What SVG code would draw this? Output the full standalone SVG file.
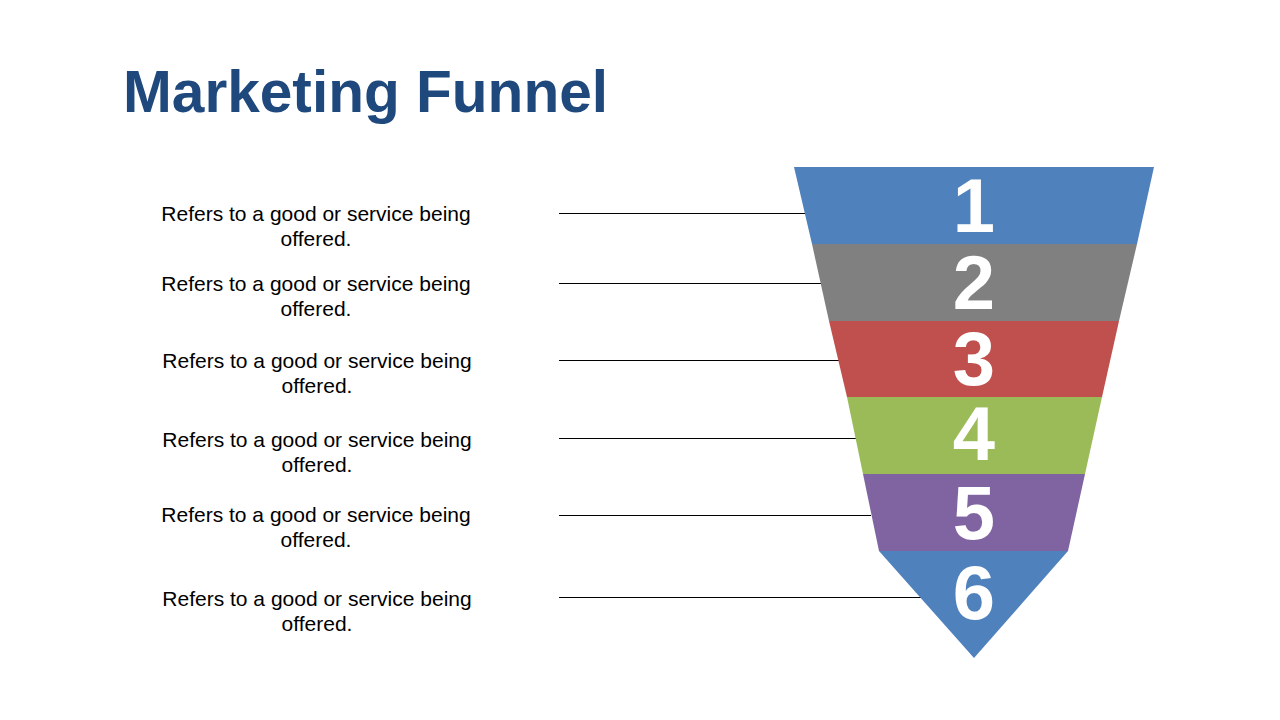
<svg xmlns="http://www.w3.org/2000/svg" width="1280" height="720" viewBox="0 0 1280 720">
<style>
.title{font-family:"Liberation Sans",Arial,sans-serif;font-weight:bold;font-size:58.6px;fill:#1F497D}
.lbl{font-family:"Liberation Sans",Arial,sans-serif;font-size:21px;fill:#000;text-anchor:middle}
.num{font-family:"Liberation Sans",Arial,sans-serif;font-weight:bold;font-size:76px;fill:#fff;text-anchor:middle}
.conn{stroke:#000;stroke-width:1;fill:none}
</style>
<rect width="1280" height="720" fill="#fff"/>
<text class="title" x="123" y="112">Marketing Funnel</text>
<g id="connectors">
<line class="conn" x1="559" y1="213.5" x2="806" y2="213.5"/>
<line class="conn" x1="559" y1="283.5" x2="822" y2="283.5"/>
<line class="conn" x1="559" y1="360.5" x2="839" y2="360.5"/>
<line class="conn" x1="559" y1="438.5" x2="857" y2="438.5"/>
<line class="conn" x1="559" y1="515.5" x2="871" y2="515.5"/>
<line class="conn" x1="559" y1="597.5" x2="921" y2="597.5"/>
</g>
<g id="stage1">
<polygon points="794,167 1154,167 1137,244 812,244" fill="#4F81BD"/>
<text class="num" x="974" y="232">1</text>
<text class="lbl" x="316" y="221">Refers to a good or service being</text>
<text class="lbl" x="316" y="246">offered.</text>
</g>
<g id="stage2">
<polygon points="812,244 1137,244 1119,321 829,321" fill="#808080"/>
<text class="num" x="974" y="309">2</text>
<text class="lbl" x="316" y="291">Refers to a good or service being</text>
<text class="lbl" x="316" y="316">offered.</text>
</g>
<g id="stage3">
<polygon points="829,321 1119,321 1102,397 847,397" fill="#C0504D"/>
<text class="num" x="974" y="385">3</text>
<text class="lbl" x="317" y="368">Refers to a good or service being</text>
<text class="lbl" x="317" y="393">offered.</text>
</g>
<g id="stage4">
<polygon points="847,397 1102,397 1085,474 863,474" fill="#9BBB59"/>
<text class="num" x="974" y="460">4</text>
<text class="lbl" x="317" y="447">Refers to a good or service being</text>
<text class="lbl" x="317" y="472">offered.</text>
</g>
<g id="stage5">
<polygon points="863,474 1085,474 1068,551 879,551" fill="#8064A2"/>
<text class="num" x="974" y="539">5</text>
<text class="lbl" x="316" y="522">Refers to a good or service being</text>
<text class="lbl" x="316" y="547">offered.</text>
</g>
<g id="stage6">
<polygon points="879,551 1068,551 974,658" fill="#4F81BD"/>
<text class="num" x="974" y="619">6</text>
<text class="lbl" x="317" y="606">Refers to a good or service being</text>
<text class="lbl" x="317" y="631">offered.</text>
</g>
</svg>
